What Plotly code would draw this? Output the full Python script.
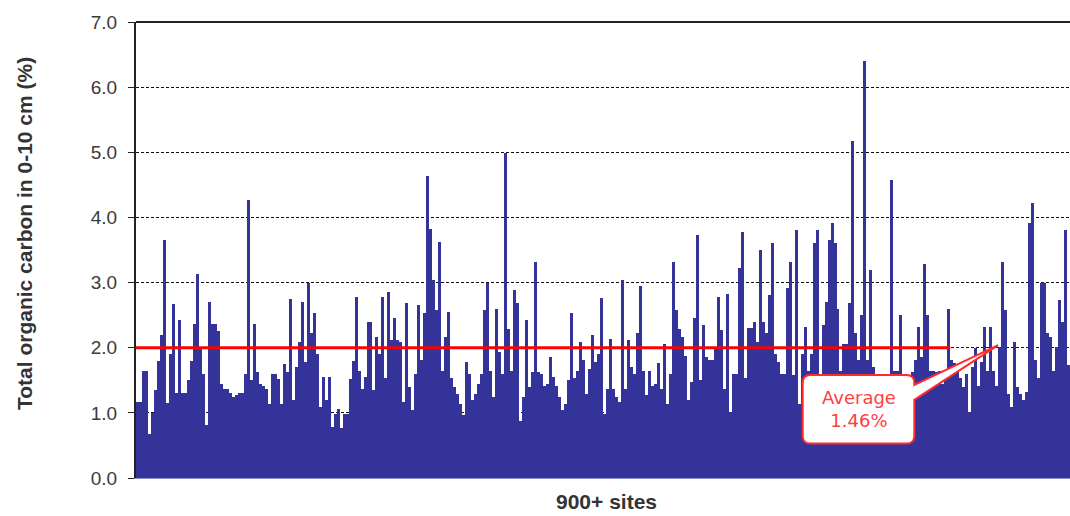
import plotly.graph_objects as go

# Total organic carbon (%) in 0-10 cm, read left to right (each value ~3 sites wide on screen)
toc_part1 = [1.17, 1.17, 1.65, 1.65, 0.68, 1.0, 1.35, 1.8, 2.2, 3.65, 1.15, 1.9, 2.67, 1.3, 2.42,
             1.3, 1.3, 1.5, 1.8, 2.37, 3.13, 2.0, 1.6, 0.81, 2.7, 2.37, 2.37, 2.25, 1.45, 1.37,
             1.37, 1.3, 1.25, 1.28, 1.3, 1.3, 1.6, 4.27, 1.5]
toc_part2 = [2.37, 1.63, 1.45, 1.42, 1.37, 1.14, 1.6, 1.6, 1.52, 1.14, 1.75, 1.63, 2.75, 1.19, 1.7,
             2.09, 2.7, 1.78, 2.99, 2.22, 2.53, 1.91, 1.09, 1.55, 1.19, 1.55, 0.78, 0.99, 1.06, 0.76,
             0.99, 0.99, 1.52, 1.8, 2.78, 1.65, 1.37, 1.55, 2.4]
toc_part3 = [2.4, 1.35, 2.17, 1.91, 2.78, 1.53, 2.86, 2.12, 2.45, 2.12, 2.09, 1.17, 2.68, 1.4, 1.04,
             1.6, 2.65, 1.81, 2.53, 4.63, 3.83, 3.04, 2.58, 3.63, 1.65, 2.17, 2.55, 1.53, 1.4, 1.29,
             1.14, 0.96, 1.78, 1.6, 1.19, 1.29, 1.45, 1.6, 2.58]
toc_part4 = [2.99, 1.65, 1.24, 2.6, 1.94, 1.6, 4.99, 2.29, 1.65, 2.88, 2.68, 0.88, 1.24, 2.42, 1.4,
             1.63, 3.31, 1.63, 1.6, 1.42, 1.45, 1.86, 1.55, 1.42, 1.24, 1.04, 1.14, 1.5, 2.54, 1.53,
             1.65, 2.09, 1.81, 1.29, 1.68, 2.19, 1.78, 1.91, 2.76]
toc_part5 = [0.99, 1.37, 2.14, 1.37, 1.24, 1.17, 3.04, 1.37, 2.12, 1.71, 1.6, 2.22, 2.94, 1.65, 1.27,
             1.65, 1.42, 1.45, 1.76, 1.37, 2.06, 1.14, 1.6, 3.32, 2.58, 2.29, 2.17, 1.88, 1.19, 1.47,
             2.45, 3.73, 1.5, 2.35, 1.86, 1.81, 1.81, 2.01, 2.78]
toc_part6 = [2.27, 1.37, 2.83, 1.01, 1.6, 1.6, 3.22, 3.78, 1.53, 2.31, 2.31, 2.4, 2.09, 3.5, 2.4,
             2.22, 2.81, 3.6, 1.91, 1.78, 1.6, 1.6, 2.91, 3.32, 1.58, 3.8, 1.14, 1.91, 2.32, 1.65,
             1.91, 3.6, 3.81, 1.6, 2.35, 2.7, 3.65, 3.91, 3.6]
toc_part7 = [2.6, 1.65, 2.06, 2.06, 2.68, 5.18, 2.22, 1.81, 2.5, 6.4, 1.81, 3.19, 1.7, 1.6, 1.6,
             1.6, 1.6, 1.6, 4.58, 1.65, 1.65, 2.5, 1.6, 1.58, 1.47, 1.63, 1.81, 2.32, 1.86, 3.29,
             2.5, 1.65, 1.65, 1.63, 1.65, 1.45, 1.65, 2.6, 1.81]
toc_part8 = [1.76, 1.65, 1.53, 1.4, 1.6, 1.01, 1.71, 1.99, 1.42, 1.78, 2.32, 1.65, 2.32, 1.65, 1.42,
             2.01, 3.32, 2.58, 1.29, 1.09, 2.09, 1.4, 1.29, 1.19, 1.32, 3.91, 4.22, 1.81, 1.53, 2.99,
             2.99, 2.22, 2.17, 1.65, 2.01, 2.73, 2.4, 3.81, 1.73]

toc_values = (toc_part1 + toc_part2 + toc_part3 + toc_part4 +
              toc_part5 + toc_part6 + toc_part7 + toc_part8)
site_index = list(range(len(toc_values)))

y_tick_values = [0, 1, 2, 3, 4, 5, 6, 7]
y_tick_labels = ["0.0", "1.0", "2.0", "3.0", "4.0", "5.0", "6.0", "7.0"]

avg_line_level = 2.0          # red reference line level as drawn
avg_line_end_site = 271.5     # where the red line stops
avg_label = "Average<br>1.46%"

y_title = "Total organic carbon in 0-10 cm (%)"
x_title = "900+ sites"

BAR_COLOR = "#333399"
RED = "#FF0000"

fig = go.Figure()
fig.add_trace(go.Bar(
    x=site_index, y=toc_values,
    marker=dict(color=BAR_COLOR, line=dict(width=0)),
    hoverinfo="skip", showlegend=False,
))
fig.add_trace(go.Scatter(
    x=[-0.5, avg_line_end_site], y=[avg_line_level, avg_line_level],
    mode="lines", line=dict(color=RED, width=3),
    hoverinfo="skip", showlegend=False,
))

# Callout bubble (rounded box with a wedge tail pointing to the line end)
bx0, bx1, by0, by1 = 222.2, 259.5, 0.53, 1.58
rx, ry = 2.6, 0.12
tail_y_hi, tail_y_lo = 1.43, 1.20
tip_x, tip_y = 287.5, 2.04
path = (f"M {bx0+rx},{by1} L {bx1-rx},{by1} Q {bx1},{by1} {bx1},{by1-ry} "
        f"L {bx1},{tail_y_hi} L {tip_x},{tip_y} L {bx1},{tail_y_lo} "
        f"L {bx1},{by0+ry} Q {bx1},{by0} {bx1-rx},{by0} "
        f"L {bx0+rx},{by0} Q {bx0},{by0} {bx0},{by0+ry} "
        f"L {bx0},{by1-ry} Q {bx0},{by1} {bx0+rx},{by1} Z")
fig.add_shape(type="path", path=path, xref="x", yref="y",
              fillcolor="white", line=dict(color="#FF2A2A", width=2), layer="above")

fig.add_annotation(x=(bx0 + bx1) / 2, y=(by0 + by1) / 2, xref="x", yref="y",
                   text=avg_label, showarrow=False,
                   font=dict(family="DejaVu Sans", size=18, color="#FF4040"),
                   xanchor="center", yanchor="middle")

# top border of the plot area
fig.add_shape(type="line", xref="paper", yref="paper", x0=0, x1=1, y0=1, y1=1,
              line=dict(color="#222222", width=2), layer="above")

fig.add_annotation(text=f"<b>{y_title}</b>", textangle=-90, showarrow=False,
                   xref="paper", yref="paper", x=(24 - 136) / 934, y=(478 - 234) / 456,
                   xanchor="center", yanchor="middle",
                   font=dict(family="Liberation Sans", size=21, color="#333333"))
fig.add_annotation(text=f"<b>{x_title}</b>", showarrow=False,
                   xref="paper", yref="paper", x=(606 - 136) / 934, y=(478 - 515) / 456,
                   xanchor="center", yanchor="bottom",
                   font=dict(family="Liberation Sans", size=21, color="#333333"))

fig.update_layout(
    width=1070, height=516,
    margin=dict(l=136, r=0, t=22, b=38),
    paper_bgcolor="white", plot_bgcolor="white",
    bargap=0,
    font=dict(family="Liberation Sans", size=19, color="#3a3a3a"),
)
fig.update_xaxes(range=[-0.5, len(toc_values) - 0.5], showticklabels=False,
                 showgrid=False, zeroline=False, showline=True, linecolor="#8f8fc8",
                 linewidth=1, ticks="")
fig.update_yaxes(range=[0, 7], tickvals=y_tick_values, ticktext=y_tick_labels,
                 showgrid=True, gridcolor="#111111", gridwidth=1.2, griddash="3px,2px",
                 zeroline=False, showline=True, linecolor="#222222", linewidth=2,
                 ticks="outside", ticklen=6, tickcolor="#222222", tickwidth=1,
                 ticklabelstandoff=7,
                 tickfont=dict(family="Liberation Sans", size=19, color="#3a3a3a"))

fig.write_html("out.html")
